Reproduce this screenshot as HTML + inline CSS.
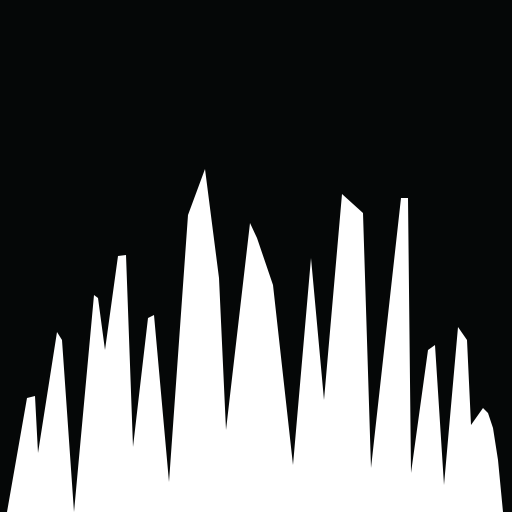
<!DOCTYPE html>
<html><head><style>html,body{margin:0;padding:0;background:#050707;}svg{display:block}</style></head>
<body>
<svg width="512" height="512" viewBox="0 0 512 512">
<rect width="512" height="512" fill="#050707"/>
<path id="shape" fill="#ffffff"/>
</svg>
<script>
const xs=[7,27,35,38,57,62,74,94,98,105,118,126,133,148,154,169,188,205,219,226,250,257,273,293,311,324,342,363,371,401,408,411,428,435,444,458,467,471,483,488,493,498,503];
const ys=[512,398,396,453,332,340,512,295,298,350,256,255,447,318,315,482,215,169,278,430,223,238,285,465,258,400,194,213,468,198,198,473,350,345,485,327,340,425,408,413,428,460,512];
let d='M'+xs[0]+' 512';
for(let i=0;i<xs.length;i++)d+=' L'+xs[i]+' '+ys[i];
d+=' L512 512 Z';
document.getElementById('shape').setAttribute('d',d);
</script>
</body></html>
